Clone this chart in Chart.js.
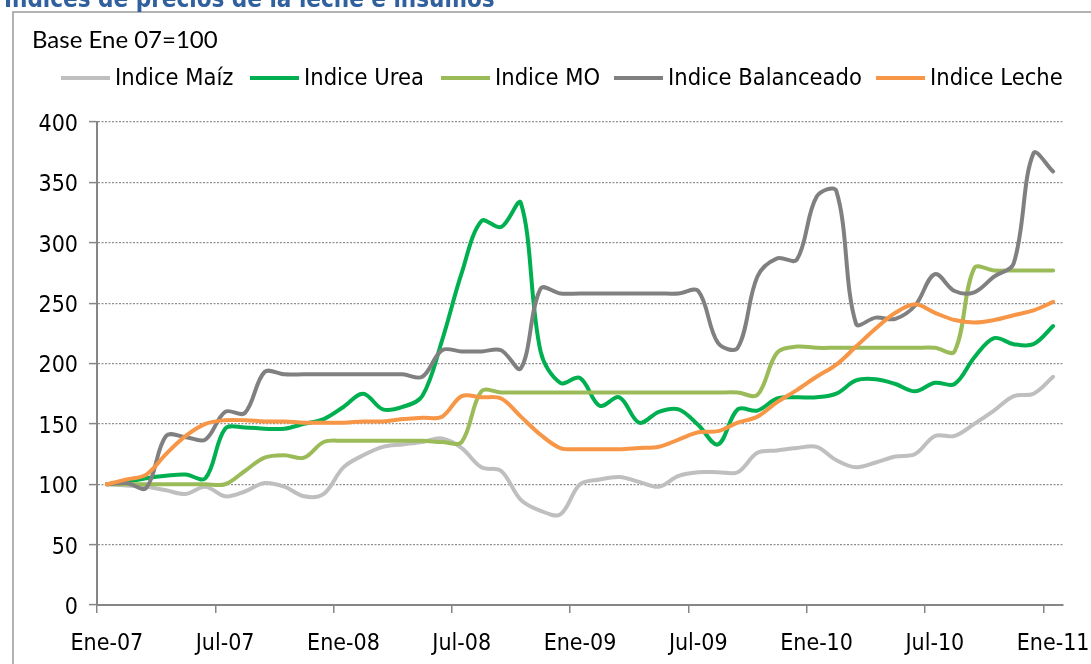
<!DOCTYPE html>
<html>
<head>
<meta charset="utf-8">
<script src="https://cdn.jsdelivr.net/npm/chart.js@4.4.1/dist/chart.umd.min.js"></script>
<style>
  html, body { margin: 0; padding: 0; background: #fff; }
  canvas { display: block; }
</style>
</head>
<body>
<canvas id="chart" width="1091" height="664"></canvas>
<script>
const monthNames = ['Ene', 'Feb', 'Mar', 'Abr', 'May', 'Jun', 'Jul', 'Ago', 'Sep', 'Oct', 'Nov', 'Dic'];
const years = ['07', '08', '09', '10', '11'];
const months = [];
years.forEach(y => monthNames.forEach(m => months.push(m + '-' + y)));
months.length = 49; // Ene-07 .. Ene-11

const maiz = [100, 99, 98, 95, 92, 98, 90, 94, 101, 98, 90, 92, 114, 124, 131, 133, 135, 138, 130, 114,
  111, 87, 78, 75, 100, 104, 106, 102, 98, 107, 110, 110, 110, 126, 128, 130, 131, 120, 114, 118,
  123, 125, 140, 140, 150, 161, 173, 175, 189];
const urea = [100, 102, 105, 107, 108, 105, 146, 147, 146, 146, 150, 154, 164, 175, 162, 164, 173, 219, 275, 318,
  313, 333, 210, 184, 188, 165, 172, 151, 160, 162, 149, 133, 162, 161, 171, 172, 172, 175, 186, 187,
  183, 177, 184, 183, 205, 221, 216, 216, 231];
const mo = [100, 100, 100, 100, 100, 100, 100, 111, 122, 124, 122, 135, 136, 136, 136, 136, 136, 135, 135, 177,
  176, 176, 176, 176, 176, 176, 176, 176, 176, 176, 176, 176, 176, 174, 209, 214, 213, 213, 213, 213,
  213, 213, 213, 210, 279, 277, 277, 277, 277];
const balanceado = [100, 101, 97, 140, 139, 137, 160, 159, 193, 191, 191, 191, 191, 191, 191, 191, 189, 211, 210, 210,
  211, 196, 262, 258, 258, 258, 258, 258, 258, 258, 260, 217, 213, 272, 287, 286, 338, 343, 233, 238,
  237, 248, 274, 260, 259, 272, 283, 374, 359];
const leche = [100, 104, 108, 125, 140, 150, 153, 153, 152, 152, 151, 151, 151, 152, 152, 154, 155, 156, 173, 172,
  171, 156, 141, 130, 129, 129, 129, 130, 131, 137, 143, 144, 151, 156, 168, 178, 189, 199, 214, 229,
  242, 249, 242, 236, 234, 236, 240, 244, 251];

const seriesNames = ['Indice Maíz', 'Indice Urea', 'Indice MO', 'Indice Balanceado', 'Indice Leche'];
const seriesData = [maiz, urea, mo, balanceado, leche];
const colors = ['#BFBFBF', '#00B050', '#9BBB59', '#808080', '#F79646'];

const tickFont = { family: "'DejaVu Sans Condensed', 'DejaVu Sans', sans-serif", size: 23 };
const axisGrey = '#868686';

// title, frame, subtitle and legend drawn by hand
const decor = {
  id: 'decor',
  beforeDraw(chart) {
    const c = chart.ctx;
    c.save();
    c.fillStyle = '#fff';
    c.fillRect(0, 0, chart.width, chart.height);
    c.strokeStyle = '#9a9a9a';
    c.lineWidth = 1.5;
    c.beginPath();
    c.moveTo(13, chart.height);
    c.lineTo(13, 12);
    c.lineTo(chart.width, 12);
    c.stroke();
    c.restore();
  },
  afterDraw(chart) {
    const c = chart.ctx;
    c.save();
    c.fillStyle = '#31609E';
    c.textBaseline = 'alphabetic';
    c.font = "bold 24px 'DejaVu Sans Condensed', 'DejaVu Sans', sans-serif";
    c.fillText('Indices de precios de la leche e insumos', 4, 7, 504);

    c.fillStyle = '#000';
    c.font = "24px Lato, 'Open Sans', sans-serif";
    c.fillText('Base Ene 07=100', 32, 48);

    const starts = [61, 250, 441, 614, 876];
    c.font = "23.5px 'DejaVu Sans Condensed', 'DejaVu Sans', sans-serif";
    c.textBaseline = 'middle';
    c.lineWidth = 4;
    seriesNames.forEach((name, i) => {
      c.strokeStyle = colors[i];
      c.beginPath();
      c.moveTo(starts[i], 78);
      c.lineTo(starts[i] + 49, 78);
      c.stroke();
      c.fillStyle = '#000';
      c.fillText(name, starts[i] + 54, 79);
    });
    c.restore();
  }
};

const ctx = document.getElementById('chart').getContext('2d');
const chart = new Chart(ctx, {
  type: 'line',
  data: {
    labels: months,
    datasets: seriesNames.map((name, i) => ({
      label: name,
      data: seriesData[i],
      borderColor: colors[i],
      backgroundColor: colors[i],
      borderWidth: 4,
      pointRadius: 0,
      tension: 0.35,
      borderCapStyle: 'round',
      borderJoinStyle: 'round',
      fill: false,
      order: 5 - i
    }))
  },
  options: {
    responsive: false,
    animation: false,
    layout: { padding: { top: 122, right: 28, left: 0, bottom: 0 } },
    plugins: {
      legend: { display: false },
      title: { display: false },
      tooltip: { enabled: false }
    },
    scales: {
      x: {
        type: 'category',
        offset: true,
        afterFit: s => {
          s.height = 59;
          s.paddingLeft = 0;
          s.paddingRight = 0;
        },
        grid: {
          offset: true,
          drawOnChartArea: false,
          tickLength: 8,
          lineWidth: 1.5,
          tickColor: c => (c.index % 6 === 0 ? axisGrey : 'rgba(0,0,0,0)')
        },
        border: { display: true, color: axisGrey, width: 2 },
        ticks: {
          autoSkip: false,
          maxRotation: 0,
          padding: 17,
          color: '#000',
          font: tickFont,
          callback: (v, i) => (i % 6 === 0 ? months[i] : '')
        }
      },
      y: {
        min: 0,
        max: 400,
        afterFit: s => { s.width = 97; },
        grid: {
          color: '#8f8f8f',
          lineWidth: 1.2,
          tickLength: 8,
          tickColor: axisGrey,
          tickWidth: 1.5
        },
        border: { display: true, color: axisGrey, width: 2, dash: [2, 1.5] },
        ticks: {
          stepSize: 50,
          padding: 11,
          labelOffset: 3,
          color: '#000',
          font: tickFont
        }
      }
    }
  },
  plugins: [decor]
});
</script>
</body>
</html>
